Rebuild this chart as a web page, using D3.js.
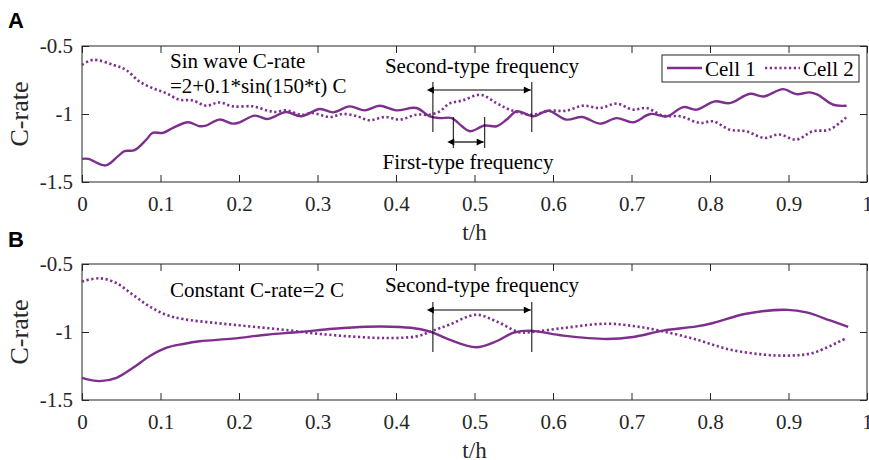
<!DOCTYPE html>
<html>
<head>
<meta charset="utf-8">
<script src="https://cdn.jsdelivr.net/npm/d3@7"></script>
<style>
  body { margin: 0; background: #fff; }
</style>
</head>
<body>
<div id="chart"></div>
<script>
// Panel A: sin wave C-rate
const tA1 = [0, 0.008, 0.030, 0.046, 0.054, 0.067, 0.082, 0.090, 0.103, 0.116, 0.135, 0.150, 0.158, 0.175, 0.192, 0.200, 0.220, 0.235, 0.243, 0.260, 0.279, 0.303, 0.320, 0.341, 0.360, 0.379, 0.400, 0.426, 0.443, 0.456, 0.471, 0.484, 0.494, 0.513, 0.528, 0.541, 0.554, 0.575, 0.594, 0.617, 0.637, 0.660, 0.681, 0.702, 0.724, 0.745, 0.766, 0.783, 0.806, 0.825, 0.851, 0.868, 0.893, 0.910, 0.927, 0.937, 0.957, 0.974];
const cA1 = [-1.33, -1.33, -1.378, -1.31, -1.273, -1.266, -1.188, -1.139, -1.139, -1.102, -1.061, -1.09, -1.085, -1.041, -1.071, -1.063, -1.012, -1.037, -1.025, -0.985, -1.017, -0.963, -0.988, -0.944, -0.973, -0.939, -0.973, -0.956, -1.017, -1.03, -1.03, -1.09, -1.127, -1.085, -1.09, -1.041, -0.98, -1.017, -0.976, -1.041, -1.022, -1.071, -1.03, -1.061, -1.0, -1.017, -0.949, -0.968, -0.907, -0.92, -0.851, -0.871, -0.817, -0.854, -0.841, -0.858, -0.932, -0.939];

const tA2 = [0, 0.014, 0.040, 0.056, 0.073, 0.090, 0.107, 0.124, 0.141, 0.158, 0.175, 0.192, 0.218, 0.235, 0.246, 0.260, 0.279, 0.294, 0.316, 0.332, 0.350, 0.366, 0.386, 0.405, 0.426, 0.443, 0.456, 0.468, 0.485, 0.508, 0.528, 0.545, 0.573, 0.596, 0.617, 0.638, 0.660, 0.681, 0.702, 0.719, 0.740, 0.762, 0.787, 0.804, 0.825, 0.846, 0.869, 0.888, 0.910, 0.931, 0.952, 0.974];
const cA2 = [-0.639, -0.602, -0.639, -0.676, -0.761, -0.81, -0.846, -0.895, -0.9, -0.939, -0.915, -0.944, -0.944, -0.973, -0.985, -0.973, -1.005, -0.993, -1.022, -1.0, -1.015, -1.046, -1.022, -1.041, -1.005, -1.005, -0.98, -0.924, -0.9, -0.859, -0.92, -0.968, -1.005, -0.976, -0.976, -0.939, -0.956, -0.924, -0.968, -0.956, -1.012, -1.017, -1.066, -1.054, -1.115, -1.127, -1.176, -1.151, -1.188, -1.127, -1.115, -1.022];

// Panel B: constant C-rate
const tB1 = [0, 0.0225, 0.044, 0.065, 0.086, 0.107, 0.129, 0.150, 0.192, 0.235, 0.277, 0.320, 0.362, 0.405, 0.430, 0.447, 0.468, 0.502, 0.528, 0.549, 0.570, 0.613, 0.668, 0.702, 0.740, 0.783, 0.804, 0.846, 0.899, 0.923, 0.953, 0.976];
const cB1 = [-1.337, -1.361, -1.337, -1.263, -1.178, -1.117, -1.088, -1.068, -1.049, -1.02, -1.0, -0.976, -0.961, -0.963, -0.978, -1.005, -1.056, -1.112, -1.068, -1.007, -0.99, -1.027, -1.051, -1.037, -0.99, -0.959, -0.934, -0.866, -0.837, -0.856, -0.915, -0.963];

const tB2 = [0, 0.0225, 0.044, 0.065, 0.086, 0.107, 0.129, 0.171, 0.214, 0.256, 0.299, 0.341, 0.383, 0.426, 0.447, 0.468, 0.502, 0.528, 0.557, 0.570, 0.613, 0.668, 0.706, 0.740, 0.783, 0.825, 0.868, 0.902, 0.931, 0.974];
const cB2 = [-0.629, -0.605, -0.641, -0.727, -0.812, -0.873, -0.905, -0.934, -0.959, -0.983, -1.012, -1.032, -1.044, -1.032, -0.99, -0.946, -0.873, -0.922, -1.002, -1.002, -0.971, -0.939, -0.959, -0.995, -1.056, -1.129, -1.166, -1.173, -1.154, -1.044];

const xTicks = [0, 0.1, 0.2, 0.3, 0.4, 0.5, 0.6, 0.7, 0.8, 0.9, 1];
const yTicks = [-0.5, -1, -1.5];
const seriesNames = ['Cell 1', 'Cell 2'];
const color = '#7E2F8E';
const serif = '"Liberation Serif", "Times New Roman", serif';
const axisColor = '#262626';

const W = 869, H = 460;
const svg = d3.select('#chart').append('svg')
    .attr('width', W)
    .attr('height', H);

const x = d3.scaleLinear().domain([0, 1]).range([82, 867]);

const line = d3.line()
    .x(d => x(d[0]))
    .y(d => d[2](d[1]))
    .curve(d3.curveCatmullRom.alpha(0.5));

function styleTicks(a) {
    a.select('.domain').remove();
    a.selectAll('line').attr('stroke', axisColor);
    a.selectAll('text')
        .style('font-family', serif)
        .style('font-size', '21px')
        .attr('fill', axisColor);
}

function drawPanel(top, bottom, label, letterY, s1, s2) {
    const y = d3.scaleLinear().domain([-1.5, -0.5]).range([bottom, top]);
    const g = svg.append('g');

    // box
    g.append('rect')
        .attr('x', x(0)).attr('y', top)
        .attr('width', x(1) - x(0)).attr('height', bottom - top)
        .attr('fill', 'none').attr('stroke', axisColor).attr('stroke-width', 1);

    // ticks (inward) on all four sides
    g.append('g').attr('transform', `translate(0,${bottom})`)
        .call(d3.axisBottom(x).tickValues(xTicks).tickSize(-7).tickPadding(14).tickFormat(d => String(d)))
        .call(styleTicks);
    g.append('g').attr('transform', `translate(0,${top})`)
        .call(d3.axisTop(x).tickValues(xTicks).tickSize(-7).tickFormat(''))
        .call(styleTicks);
    g.append('g').attr('transform', `translate(${x(0)},0)`)
        .call(d3.axisLeft(y).tickValues(yTicks).tickSize(-7).tickPadding(9).tickFormat(d => String(d)))
        .call(styleTicks);
    g.append('g').attr('transform', `translate(${x(1)},0)`)
        .call(d3.axisRight(y).tickValues(yTicks).tickSize(-7).tickFormat(''))
        .call(styleTicks);

    // y label
    g.append('text')
        .attr('transform', `translate(28,${(top + bottom) / 2}) rotate(-90)`)
        .attr('text-anchor', 'middle')
        .style('font-family', serif)
        .style('font-size', '26px')
        .attr('fill', axisColor)
        .text('C-rate');

    // x label
    g.append('text')
        .attr('x', (x(0) + x(1)) / 2).attr('y', bottom + 58)
        .attr('text-anchor', 'middle')
        .style('font-family', serif)
        .style('font-size', '23px')
        .attr('fill', axisColor)
        .text('t/h');

    // panel letter
    svg.append('text')
        .attr('x', 8).attr('y', letterY)
        .style('font-family', '"Liberation Sans", Arial, sans-serif')
        .style('font-weight', 'bold')
        .style('font-size', '22px')
        .attr('fill', '#000')
        .text(label);

    const d1 = s1[0].map((t, i) => [t, s1[1][i], y]);
    const d2 = s2[0].map((t, i) => [t, s2[1][i], y]);

    g.append('path').datum(d2)
        .attr('fill', 'none').attr('stroke', color)
        .attr('stroke-width', 2.6).attr('stroke-dasharray', '2.2,2.6')
        .attr('d', line);
    g.append('path').datum(d1)
        .attr('fill', 'none').attr('stroke', color)
        .attr('stroke-width', 2.4)
        .attr('d', line);

    return y;
}

// arrow marker
const defs = svg.append('defs');
['s', 'e'].forEach(k => {
    defs.append('marker')
        .attr('id', 'arr-' + k)
        .attr('viewBox', '0 0 10 10')
        .attr('refX', k === 'e' ? 10 : 0).attr('refY', 5)
        .attr('markerWidth', 9).attr('markerHeight', 7)
        .attr('markerUnits', 'userSpaceOnUse')
        .attr('orient', 'auto-start-reverse')
        .append('path')
        .attr('d', 'M0,0 L10,5 L0,10 z')
        .attr('fill', '#000');
});

function bracket(t0, t1, yTop, yBot, yArrow) {
    [t0, t1].forEach(t => {
        svg.append('line')
            .attr('x1', x(t)).attr('x2', x(t))
            .attr('y1', yTop).attr('y2', yBot)
            .attr('stroke', '#000').attr('stroke-width', 1);
    });
    svg.append('line')
        .attr('x1', x(t0) + 1).attr('x2', x(t1) - 1)
        .attr('y1', yArrow).attr('y2', yArrow)
        .attr('stroke', '#000').attr('stroke-width', 1.2)
        .attr('marker-start', 'url(#arr-s)')
        .attr('marker-end', 'url(#arr-e)');
}

function note(txt, px, py, anchor) {
    svg.append('text')
        .attr('x', px).attr('y', py)
        .attr('text-anchor', anchor || 'start')
        .style('font-family', serif)
        .style('font-size', '21px')
        .attr('fill', '#000')
        .text(txt);
}

// Panel A
drawPanel(46, 182, 'A', 28, [tA1, cA1], [tA2, cA2]);
note('Sin wave C-rate', 170, 68);
note('=2+0.1*sin(150*t) C', 170, 93);
note('Second-type frequency', 482, 73, 'middle');
bracket(0.447, 0.573, 82, 132, 90);
note('First-type frequency', 468, 169, 'middle');
bracket(0.473, 0.513, 117, 148, 142);

// legend
const lg = svg.append('g');
lg.append('rect')
    .attr('x', 662).attr('y', 55).attr('width', 197).attr('height', 27)
    .attr('fill', '#fff').attr('stroke', axisColor).attr('stroke-width', 1);
lg.append('line').attr('x1', 667).attr('x2', 702).attr('y1', 68).attr('y2', 68)
    .attr('stroke', color).attr('stroke-width', 2.4);
lg.append('text').attr('x', 705).attr('y', 76)
    .style('font-family', serif).style('font-size', '21px').attr('fill', '#000')
    .text(seriesNames[0]);
lg.append('line').attr('x1', 765).attr('x2', 800).attr('y1', 68).attr('y2', 68)
    .attr('stroke', color).attr('stroke-width', 2.6).attr('stroke-dasharray', '2.2,2.6');
lg.append('text').attr('x', 803).attr('y', 76)
    .style('font-family', serif).style('font-size', '21px').attr('fill', '#000')
    .text(seriesNames[1]);

// Panel B
drawPanel(264, 400, 'B', 247, [tB1, cB1], [tB2, cB2]);
note('Constant C-rate=2 C', 170, 297);
note('Second-type frequency', 482, 292, 'middle');
bracket(0.447, 0.573, 302, 352, 310);
</script>
</body>
</html>
